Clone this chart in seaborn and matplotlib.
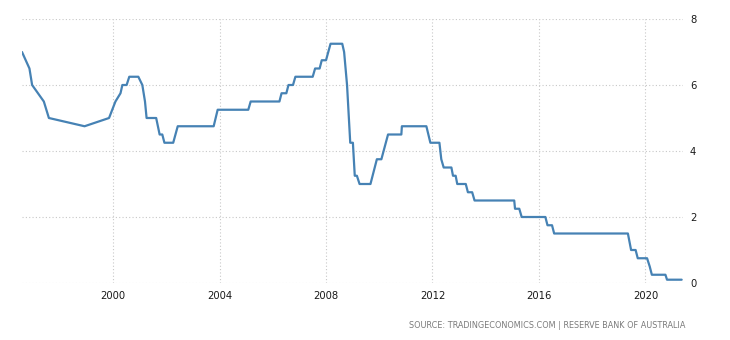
import matplotlib
matplotlib.use("Agg")
import matplotlib.pyplot as plt
import seaborn as sns
import pandas as pd

years = [1996.58, 1996.86, 1996.96, 1997.40, 1997.59, 1998.93, 1999.85, 2000.09,
         2000.28, 2000.35, 2000.51, 2000.61, 2000.95, 2001.10, 2001.20, 2001.26,
         2001.62, 2001.75, 2001.85, 2001.93, 2002.26, 2002.43, 2003.78, 2003.93,
         2005.08, 2005.17, 2006.25, 2006.33, 2006.51, 2006.59, 2006.76, 2006.85,
         2007.50, 2007.59, 2007.76, 2007.84, 2008.00, 2008.17, 2008.61, 2008.68,
         2008.79, 2008.91, 2009.01, 2009.08, 2009.16, 2009.26, 2009.67, 2009.91,
         2010.08, 2010.33, 2010.83, 2010.85, 2011.77, 2011.92, 2012.26, 2012.33,
         2012.42, 2012.71, 2012.77, 2012.87, 2012.93, 2013.25, 2013.33, 2013.49,
         2013.58, 2015.07, 2015.10, 2015.26, 2015.35, 2016.24, 2016.32, 2016.49,
         2016.57, 2019.34, 2019.40, 2019.46, 2019.63, 2019.71, 2020.06, 2020.16,
         2020.24, 2020.75, 2020.81, 2021.36]
rates = [7.0, 6.5, 6.0, 5.5, 5.0, 4.75, 5.0, 5.5,
         5.75, 6.0, 6.0, 6.25, 6.25, 6.0, 5.5, 5.0,
         5.0, 4.5, 4.5, 4.25, 4.25, 4.75, 4.75, 5.25,
         5.25, 5.5, 5.5, 5.75, 5.75, 6.0, 6.0, 6.25,
         6.25, 6.5, 6.5, 6.75, 6.75, 7.25, 7.25, 7.0,
         6.0, 4.25, 4.25, 3.25, 3.25, 3.0, 3.0, 3.75,
         3.75, 4.5, 4.5, 4.75, 4.75, 4.25, 4.25, 3.75,
         3.5, 3.5, 3.25, 3.25, 3.0, 3.0, 2.75, 2.75,
         2.5, 2.5, 2.25, 2.25, 2.0, 2.0, 1.75, 1.75,
         1.5, 1.5, 1.25, 1.0, 1.0, 0.75, 0.75, 0.5,
         0.25, 0.25, 0.1, 0.1]
xticks = [2000, 2004, 2008, 2012, 2016, 2020]
yticks = [0, 2, 4, 6, 8]
source_text = "SOURCE: TRADINGECONOMICS.COM | RESERVE BANK OF AUSTRALIA"

df = pd.DataFrame({"year": years, "rate": rates})

sns.set_style("white")
plt.rcParams["font.family"] = ["DejaVu Sans"]

fig = plt.figure(figsize=(7.3, 3.4), dpi=100)
ax = fig.add_axes([22/730, 1 - 283/340, (683 - 22)/730, (283 - 19)/340])

sns.lineplot(data=df, x="year", y="rate", ax=ax, color="#4682b4", linewidth=1.6)

ax.set_xlim(years[0], years[-1] + 0.05)
ax.set_ylim(0, 8)
ax.set_xticks(xticks)
ax.set_xticklabels([str(t) for t in xticks])
ax.set_yticks(yticks)
ax.set_yticklabels([str(t) for t in yticks])
ax.yaxis.tick_right()
ax.set_xlabel("")
ax.set_ylabel("")
for s in ax.spines.values():
    s.set_visible(False)
ax.grid(True, linestyle=(0, (1, 2)), color="#c8c8c8", linewidth=0.8)
ax.set_axisbelow(True)
ax.tick_params(axis="both", length=0, labelsize=7.2, colors="#1a1a1a")
ax.tick_params(axis="x", pad=6)
ax.tick_params(axis="y", pad=5)

fig.text(685/730, 1 - 325/340, source_text, ha="right", va="center",
         fontsize=5.9, color="#7a7a7a")

fig.savefig("out.png", dpi=100)
